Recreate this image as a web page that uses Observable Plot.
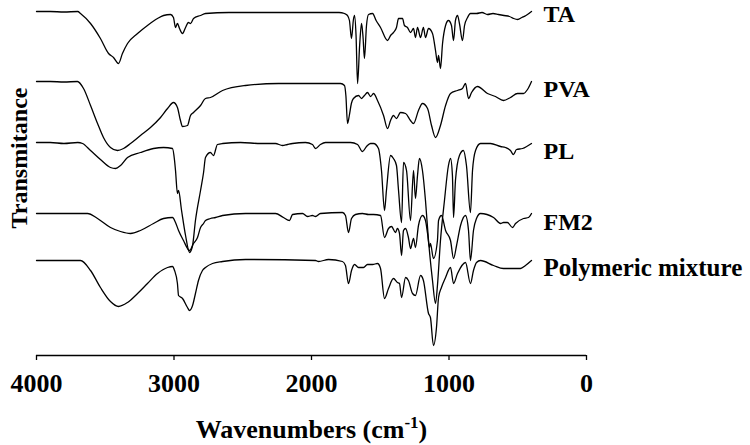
<!DOCTYPE html>
<html><head><meta charset="utf-8">
<script src="https://cdn.jsdelivr.net/npm/d3@7"></script>
<script src="https://cdn.jsdelivr.net/npm/@observablehq/plot@0.6"></script>
<style>body{margin:0;background:#fff;}</style>
</head><body><div id="chart"></div>
<script>
// Wavenumber axis ticks (cm-1)
const xTicks = [4000, 3000, 2000, 1000, 0];
const seriesNames = ["TA", "PVA", "PL", "FM2", "Polymeric mixture"];

// [wavenumber (cm-1), transmittance (a.u., stacked)]
const ta = [[4000,344],[3900,344],[3800,343.5],[3700,344],[3680,342],[3607,332],[3535,317],[3476,302],[3440,298],[3404,292],[3375,302],[3338,312],[3265,322],[3193,330],[3120,337],[3076,340],[3025,341],[3004,338],[2989,328],[2975,332],[2960,327],[2938,322],[2916,328],[2895,333],[2880,332],[2858,337],[2807,340],[2771,342],[2600,343],[2400,343],[2200,343],[2000,343],[1800,343],[1760,342],[1738,340],[1724,335],[1709,317],[1695,336],[1687,340],[1676,320],[1665,272],[1650,310],[1636,332],[1625,318],[1615,297],[1600,330],[1585,341],[1556,342],[1530,335],[1498,328],[1447,315],[1425,320],[1404,323],[1382,328],[1367,337],[1338,337],[1324,330],[1302,328],[1280,323],[1258,327],[1244,318],[1229,328],[1207,318],[1186,328],[1171,318],[1149,327],[1120,322],[1098,305],[1084,293],[1076,300],[1062,287],[1047,312],[1025,330],[1004,335],[982,330],[967,315],[953,335],[938,340],[924,332],[902,315],[887,330],[865,338],[844,342],[800,342],[760,343],[720,341],[680,342],[640,341],[600,340],[560,339],[530,337],[500,336],[470,338],[440,340],[400,344]];

const pva = [[4000,274],[3900,274],[3800,273.5],[3702,274],[3658,267],[3607,250],[3556,232],[3513,218],[3462,208],[3411,205],[3367,207],[3316,212],[3244,220],[3171,228],[3098,238],[3047,247],[3004,253],[2975,248],[2953,235],[2938,229],[2902,230],[2880,240],[2858,243],[2807,250],[2771,257],[2735,258],[2647,265],[2480,270],[2240,272],[2080,272],[1789,272],[1760,270],[1750,260],[1738,232],[1725,240],[1710,252],[1695,257],[1658,260],[1636,257],[1615,260],[1593,263],[1570,259],[1549,262],[1520,255],[1476,240],[1447,227],[1425,235],[1404,240],[1382,237],[1353,243],[1316,242],[1280,235],[1258,232],[1222,245],[1193,252],[1156,247],[1127,230],[1098,218],[1062,230],[1025,250],[989,262],[938,265],[902,267],[880,272],[858,257],[836,263],[793,269],[720,262],[662,259],[604,255],[553,258],[502,262],[458,262],[429,266],[400,274]];

const pl = [[4000,213],[3900,213],[3800,212],[3700,213],[3665,212],[3607,205],[3535,196],[3462,188],[3425,187],[3389,190],[3338,198],[3244,203],[3149,207],[3076,208],[3011,207],[2996,195],[2989,185],[2975,162],[2967,165],[2945,145],[2916,120],[2887,103],[2865,110],[2844,135],[2807,165],[2785,183],[2771,198],[2735,203],[2713,200],[2684,211],[2647,212],[2516,213],[2371,212],[2262,212],[2211,210],[2175,211],[2138,212],[2044,213],[1993,211],[1971,207],[1935,211],[1898,213],[1716,213],[1665,211],[1629,204],[1600,209],[1571,212],[1549,212],[1513,207],[1491,185],[1469,145],[1455,165],[1425,200],[1404,197],[1382,190],[1367,165],[1345,133],[1331,193],[1309,185],[1280,135],[1258,185],[1244,157],[1229,180],[1215,197],[1193,185],[1171,155],[1149,115],[1120,75],[1098,52],[1084,70],[1062,115],[1033,155],[1004,190],[989,197],[975,180],[967,138],[953,175],[924,200],[895,205],[873,190],[844,143],[829,185],[807,205],[771,212],[698,212],[625,209],[589,208],[553,205],[531,201],[509,206],[465,207],[400,212]];

const fm2 = [[4000,142],[3800,142],[3629,142],[3556,137],[3462,128],[3389,124],[3316,122],[3244,125],[3149,132],[3076,137],[3011,138],[2989,133],[2967,125],[2931,115],[2887,105],[2858,112],[2829,118],[2807,128],[2785,132],[2771,135],[2735,137],[2698,138],[2647,140],[2480,142],[2262,142],[2204,138],[2160,135],[2138,141],[2065,142],[2029,139],[1993,140],[1971,139],[1935,142],[1775,143],[1753,140],[1731,123],[1709,137],[1680,141],[1629,142],[1585,141],[1549,141],[1498,140],[1469,118],[1440,127],[1418,129],[1389,123],[1375,127],[1360,122],[1345,100],[1331,125],[1316,127],[1295,118],[1280,107],[1258,117],[1244,108],[1222,130],[1193,140],[1171,135],[1156,122],[1142,108],[1135,112],[1113,97],[1084,115],[1076,135],[1055,140],[1025,125],[989,115],[967,97],[945,110],[916,130],[880,140],[858,125],[844,95],[822,125],[800,137],[771,142],[676,138],[625,132],[604,133],[575,133],[538,128],[516,132],[458,137],[422,138],[400,142]];

const mixture = [[4000,95],[3800,95],[3680,95],[3607,85],[3535,68],[3462,54],[3404,49],[3338,53],[3265,62],[3193,72],[3120,82],[3047,88],[3011,89],[2996,85],[2975,72],[2967,60],[2938,57],[2902,48],[2887,45],[2865,50],[2844,62],[2822,75],[2793,85],[2771,88],[2720,92],[2647,94],[2480,96],[1971,95],[1949,94],[1876,96],[1775,94],[1753,90],[1731,72],[1709,85],[1687,91],[1658,88],[1622,88],[1593,91],[1556,91],[1520,92],[1498,87],[1469,57],[1440,67],[1404,77],[1375,73],[1360,72],[1345,58],[1316,78],[1295,75],[1265,62],[1244,60],[1207,80],[1186,75],[1149,42],[1135,38],[1113,10],[1091,28],[1076,58],[1055,68],[1025,78],[989,88],[967,72],[938,82],[880,93],[844,72],[822,85],[800,93],[771,95],[676,90],[604,87],[480,87],[444,90],[400,95]];

const spectra = [ta, pva, pl, fm2, mixture];
const rows = spectra.flatMap((s, i) => s.map(([w, t]) => ({series: seriesNames[i], w, t})));
const ends = spectra.map((s, i) => ({series: seriesNames[i], w: s[s.length - 1][0], t: s[s.length - 1][1]}));
const labelDy = [3, 8, 8, 9, 7];
const font = "'Liberation Serif','Times New Roman',serif";

const chart = Plot.plot({
  width: 750, height: 445,
  marginLeft: 36, marginRight: 164, marginTop: 0, marginBottom: 90,
  style: {fontFamily: font, fontWeight: "bold", fontSize: "26px", color: "#000", background: "#fff", overflow: "visible"},
  x: {domain: [4000, 0]},
  y: {domain: [0, 355], axis: null},
  color: {domain: seriesNames, range: seriesNames.map(() => "#000")},
  marks: [
    Plot.ruleY([0], {stroke: "#000", strokeWidth: 1.3}),
    Plot.axisX({ticks: xTicks, tickFormat: d => String(d), tickSize: 5, tickPadding: 13, stroke: "#000", strokeWidth: 1.3, label: null, fontSize: 26, fontWeight: "bold", fill: "#000"}),
    Plot.line(rows, {x: "w", y: "t", z: "series", stroke: "series", strokeWidth: 1.3, curve: "monotone-x"}),
    ...ends.map((d, i) => Plot.text([d], {x: "w", y: "t", text: "series", dx: 12, dy: labelDy[i], textAnchor: "start", lineAnchor: "middle", fontSize: i === 4 ? 25 : 24, fontWeight: "bold", fill: "#000"})),
    Plot.text(["Transmitance"], {text: d => d, frameAnchor: "left", textAnchor: "middle", rotate: -90, dx: -10, dy: -20, lineAnchor: "bottom", fontSize: 24, fontWeight: "bold", fill: "#000"}),
    Plot.text(["Wavenumbers (cm-1)"], {text: d => d, frameAnchor: "bottom", textAnchor: "middle", lineAnchor: "bottom", dy: 82, fontSize: 26, fontWeight: "bold", fill: "#000"})
  ]
});

d3.select(chart).selectAll("text")
  .filter(function() { return this.textContent === "Wavenumbers (cm-1)"; })
  .each(function() {
    const t = d3.select(this);
    t.text(null);
    t.append("tspan").text("Wavenumbers (cm");
    t.append("tspan").attr("dy", -10).attr("font-size", 17).text("-1");
    t.append("tspan").attr("dy", 10).text(")");
  });

document.getElementById("chart").appendChild(chart);
</script>
</body></html>
